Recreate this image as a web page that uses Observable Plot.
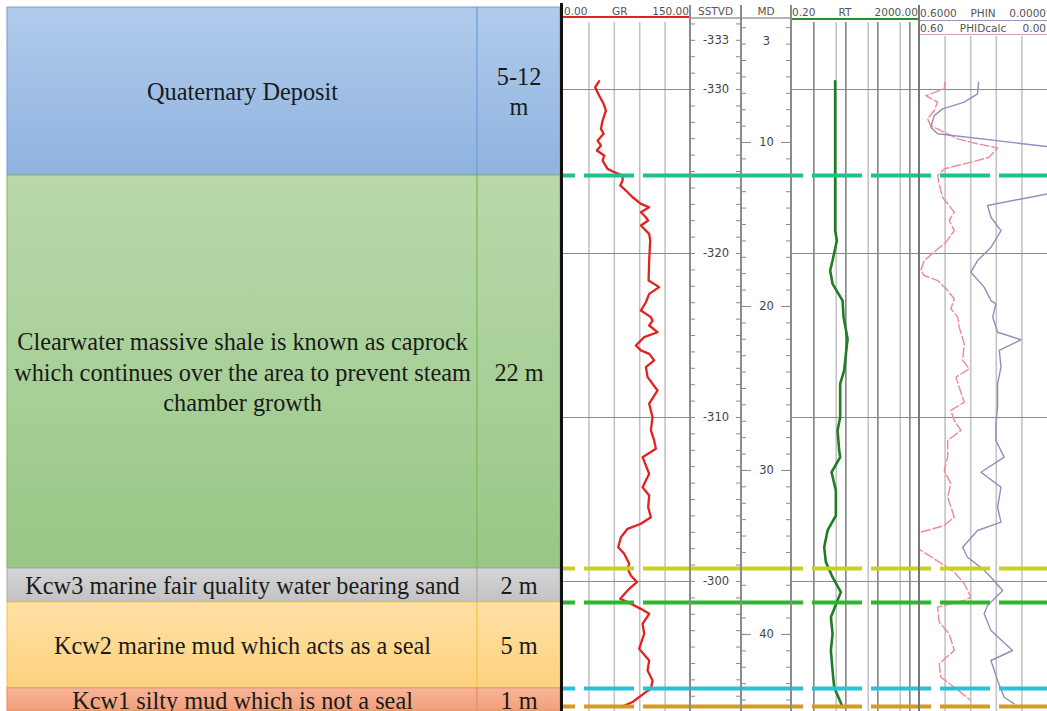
<!DOCTYPE html>
<html>
<head>
<meta charset="utf-8">
<script src="https://cdn.jsdelivr.net/npm/d3@7"></script>
<script src="https://cdn.jsdelivr.net/npm/@observablehq/plot@0.6"></script>
<style>
  html, body { margin: 0; padding: 0; background: #fff; }
  #fig { position: relative; width: 1047px; height: 711px; overflow: hidden; background: #fff; }
  #fig svg.strat text { font-family: "Liberation Serif", "Times New Roman", serif !important; }
</style>
</head>
<body>
<div id="fig"></div>
<script>
// ---------- Stratigraphic column (depths in SSTVD, m) ----------
const units = [
  "Quaternary Deposit",
  "Clearwater massive shale is known as caprock\nwhich continues over the area to prevent steam\nchamber growth",
  "Kcw3 marine fair quality water bearing sand",
  "Kcw2 marine mud which acts as a seal",
  "Kcw1 silty mud which is not a seal"
];
const unitThickness = ["5-12\nm", "22 m", "2 m", "5 m", "1 m"];
const unitTops  = [-335.0, -324.76, -300.79, -298.72, -293.48];
const unitBases = [-324.76, -300.79, -298.72, -293.48, -292.07];
const unitFillTop    = ["#b1cbeb", "#b9d9ab", "#d5d5d5", "#ffe1a6", "#f7b699"];
const unitFillBottom = ["#8fb3e0", "#99c786", "#c2c2c2", "#fdd27d", "#f39e7a"];
const unitBorder     = ["#6f9ed8", "#7db85f", "#a9a9a9", "#f3c246", "#e98a5c"];

// ---------- Formation tops picked on the logs ----------
const topDepths = [-324.76, -300.79, -298.72, -293.48, -292.38];
const topColors = ["#1fc08c", "#c8d11f", "#2db52d", "#25c2d9", "#d49a23"];

// ---------- Log curves: [SSTVD, value] ----------
const grCurve = [
  [-330.51,42.2],[-330.14,37.4],[-329.74,41.0],[-329.13,47.4],[-328.72,50.1],[-328.11,46.2],[-327.60,44.2],
  [-327.30,47.4],[-326.89,40.3],[-326.59,44.2],[-326.28,39.4],[-325.98,48.1],[-325.67,46.2],[-325.16,52.1],
  [-324.96,59.9],[-324.76,69.8],[-324.45,69.8],[-324.15,67.0],[-323.74,75.7],[-323.43,81.6],[-323.03,91.4],
  [-322.82,101.2],[-322.52,91.4],[-322.21,97.3],[-322.01,100.0],[-321.71,91.4],[-321.20,101.2],[-320.79,102.4],
  [-319.57,101.2],[-318.35,100.5],[-317.95,113.0],[-317.54,101.2],[-317.03,97.3],[-316.52,91.4],[-316.12,103.2],
  [-315.91,105.2],[-315.61,101.2],[-315.20,111.1],[-314.90,95.3],[-314.39,85.5],[-314.09,91.4],[-313.88,101.2],
  [-313.48,107.1],[-313.07,97.3],[-312.46,99.3],[-311.65,111.1],[-310.84,101.2],[-310.02,105.2],[-309.21,103.2],
  [-308.60,107.1],[-308.09,109.1],[-307.58,93.4],[-306.57,101.2],[-305.75,93.4],[-305.24,101.2],[-304.53,100.0],
  [-303.92,103.2],[-303.52,91.4],[-303.21,75.7],[-302.70,67.8],[-302.09,64.6],[-301.69,71.7],[-301.08,77.6],
  [-300.77,75.7],[-300.37,79.6],[-299.96,86.7],[-299.55,77.6],[-298.94,67.0],[-298.74,75.7],[-298.33,91.4],
  [-298.03,101.2],[-297.42,93.4],[-296.81,95.3],[-295.90,89.4],[-295.18,101.2],[-294.57,99.3],[-293.96,105.2],
  [-293.46,103.2],[-293.25,97.3],[-292.65,81.6],[-292.34,67.8]
];
const rtCurve = [
  [-330.51,4.63],[-321.40,4.63],[-320.79,5.23],[-319.57,3.84],[-318.96,3.23],[-318.15,3.84],[-317.13,7.88],
  [-316.12,8.47],[-314.80,11.3],[-312.87,8.85],[-312.05,6.64],[-310.02,6.64],[-309.21,5.50],[-307.99,6.18],
  [-307.58,6.64],[-306.66,3.57],[-305.55,4.87],[-304.02,4.87],[-303.11,2.68],[-302.09,2.10],[-301.18,2.37],
  [-300.26,3.84],[-299.35,6.98],[-298.74,5.23],[-297.82,3.40],[-296.81,3.84],[-295.79,3.40],[-294.57,3.84],
  [-293.55,4.31],[-292.34,7.88]
];
const phinCurve = [
  [-330.45,0.323],[-329.74,0.328],[-329.23,0.390],[-328.82,0.492],[-328.41,0.531],[-327.70,0.547],[-327.30,0.515],
  [-326.52,0.0],[-326.20,-0.05],[-323.90,-0.05],[-323.64,0.0],[-322.93,0.281],[-322.21,0.265],[-321.40,0.218],
  [-320.38,0.265],[-319.57,0.328],[-318.86,0.359],[-317.95,0.297],[-317.13,0.265],[-316.93,0.242],[-316.12,0.257],
  [-315.20,0.234],[-314.74,0.125],[-314.09,0.226],[-313.07,0.218],[-312.05,0.234],[-310.63,0.234],[-309.62,0.242],
  [-308.60,0.242],[-307.58,0.203],[-306.66,0.312],[-305.75,0.218],[-304.53,0.234],[-303.62,0.218],[-303.11,0.328],
  [-302.09,0.398],[-301.48,0.375],[-300.77,0.304],[-300.26,0.265],[-299.45,0.210],[-299.04,0.242],[-298.54,0.281],
  [-298.03,0.297],[-297.01,0.265],[-295.79,0.164],[-295.18,0.265],[-293.96,0.234],[-292.94,0.203],[-292.54,0.156]
];
const phidCurve = [
  [-330.45,0.481],[-330.04,0.484],[-329.63,0.570],[-329.23,0.515],[-328.72,0.531],[-328.21,0.562],[-327.80,0.547],
  [-326.99,0.421],[-326.69,0.328],[-326.44,0.234],[-325.87,0.273],[-325.57,0.359],[-325.16,0.484],[-324.76,0.515],
  [-324.25,0.508],[-323.43,0.492],[-322.52,0.437],[-322.01,0.461],[-321.40,0.437],[-320.69,0.476],[-320.18,0.523],
  [-319.57,0.578],[-318.96,0.594],[-318.66,0.578],[-318.35,0.515],[-317.85,0.476],[-317.24,0.437],[-316.63,0.453],
  [-316.12,0.421],[-315.51,0.414],[-314.49,0.390],[-313.48,0.398],[-312.97,0.367],[-312.46,0.429],[-311.85,0.414],
  [-310.93,0.390],[-310.43,0.453],[-309.82,0.437],[-309.21,0.406],[-308.60,0.468],[-307.58,0.468],[-306.77,0.484],
  [-305.96,0.453],[-305.14,0.468],[-303.92,0.437],[-303.41,0.484],[-303.01,0.593],[-302.45,0.660],[-301.89,0.593],
  [-301.38,0.531],[-300.57,0.437],[-299.86,0.390],[-299.04,0.359],[-298.84,0.390],[-298.43,0.515],[-297.52,0.508],
  [-296.81,0.461],[-295.79,0.437],[-294.98,0.508],[-294.16,0.500],[-293.55,0.437],[-292.74,0.359]
];

// ---------- Depth annotation and grid values ----------
const sstvdLabels = [-333, -330, -320, -310, -300];
const depthGrid = [-330, -320, -310, -300];
const mdLabels = [10, 20, 30, 40];
const logTopMD = 3.8;          // MD at the top of the displayed interval
const mdMinusSstvd = 336.77;   // MD = SSTVD + offset for this well
const grGrid = [30, 60, 90, 120];
const rtMajor = [1, 10, 100, 1000];
const rtMinor = [5, 50, 500];
const phiGrid = [0.48, 0.36, 0.24, 0.12];
const curveHeaders = {
  gr: ["0.00", "GR", "150.00"],
  rt: ["0.20", "RT", "2000.00"],
  phin: ["0.6000", "PHIN", "0.0000"],
  phid: ["0.60", "PHIDcalc", "0.00"],
  sstvd: ["SSTVD"],
  md: ["MD"]
};

// ---------- Layout ----------
const FIG_H = 711;
const figTopDepth = -335.43, figBottomDepth = -292.07;
const pxPerM = FIG_H / (figBottomDepth - figTopDepth);
const depthDomain = topPx => [figTopDepth + topPx / pxPerM, figBottomDepth];
const fig = document.getElementById("fig");
const SANS = "'DejaVu Sans', 'Liberation Sans', sans-serif";
const SERIF = "'Liberation Serif', 'Times New Roman', serif";

function box(left, top, w, h, css = {}) {
  const d = document.createElement("div");
  Object.assign(d.style, {position: "absolute", left: left + "px", top: top + "px", width: w + "px", height: h + "px"}, css);
  fig.appendChild(d);
  return d;
}

// ---------- Stratigraphic column ----------
const split = 0.85; // share of the column used for the description
const rows = units.map((unit, i) => ({
  i, unit, thick: unitThickness[i], top: unitTops[i], base: unitBases[i],
  fill: `url(#unit-grad-${i})`, border: unitBorder[i]
}));
const textStyle = {fontFamily: SERIF, fontSize: 24.3, lineHeight: 1.25, fill: "#1a1a1a", dy: -1};
const table = Plot.plot({
  width: 560, height: FIG_H,
  marginLeft: 7, marginRight: 0, marginTop: 0, marginBottom: 0,
  x: {domain: [0, 1], axis: null},
  y: {domain: [figTopDepth, figBottomDepth], reverse: true, axis: null},
  color: {type: "identity"},
  style: {background: "transparent", overflow: "visible"},
  marks: [
    Plot.rect(rows, {x1: 0, x2: split, y1: "top", y2: "base", fill: "fill", stroke: "border", strokeWidth: 1}),
    Plot.rect(rows, {x1: split, x2: 1, y1: "top", y2: "base", fill: "fill", stroke: "border", strokeWidth: 1}),
    Plot.text(rows, {x: split / 2, y: d => (d.top + d.base) / 2, text: "unit", ...textStyle}),
    Plot.text(rows, {x: (1 + split) / 2, y: d => (d.top + d.base) / 2, text: "thick", ...textStyle})
  ]
});
table.classList.add("strat");
const defs = d3.select(table).insert("defs", ":first-child");
rows.forEach((r, i) => {
  const g = defs.append("linearGradient").attr("id", `unit-grad-${i}`)
    .attr("x1", 0).attr("y1", 0).attr("x2", 0).attr("y2", 1);
  g.append("stop").attr("offset", "0%").attr("stop-color", unitFillTop[i]);
  g.append("stop").attr("offset", "100%").attr("stop-color", unitFillBottom[i]);
});
Object.assign(table.style, {position: "absolute", left: "0px", top: "0px"});
fig.appendChild(table);

// ---------- Log tracks ----------
const tracks = {
  gr:    {left: 563, width: 127, top: 22},
  sstvd: {left: 690, width: 51,  top: 22},
  md:    {left: 741, width: 50,  top: 22},
  rt:    {left: 791, width: 128, top: 22},
  phi:   {left: 919, width: 128, top: 36}
};
const topsData = topDepths.map((depth, i) => ({depth, color: topColors[i]}));
const dashedTops = Plot.ruleY(topsData, {y: "depth", stroke: "color", strokeWidth: 4,
  strokeDasharray: "50,9", strokeDashoffset: 38});
const depthLines = Plot.ruleY(depthGrid, {stroke: "#8a8a8a", strokeWidth: 1});

function trackPlot(t, x, marks, shift = 0) {
  const [d0, d1] = depthDomain(t.top);
  const svg = Plot.plot({
    width: t.width, height: FIG_H - t.top, margin: 0,
    x: {...x, axis: null},
    y: {domain: [d0 + shift, d1 + shift], reverse: true, axis: null},
    color: {type: "identity"},
    style: {background: "transparent", overflow: "visible"},
    marks
  });
  Object.assign(svg.style, {position: "absolute", left: t.left + "px", top: t.top + "px"});
  fig.appendChild(svg);
}

// Gamma ray
trackPlot(tracks.gr, {domain: [0, 150]}, [
  Plot.ruleX(grGrid, {stroke: "#c4c4c4", strokeWidth: 1.6}),
  depthLines,
  Plot.line(grCurve, {x: d => d[1], y: d => d[0], stroke: "#e0231f", strokeWidth: 2.3}),
  dashedTops
]);

// SSTVD depth track
const sstvdTicks = d3.range(-334, -292);
trackPlot(tracks.sstvd, {domain: [0, 1]}, [
  Plot.tickY(sstvdTicks, {stroke: "#8a8a8a", insetRight: tracks.sstvd.width - 5}),
  Plot.tickY(sstvdTicks, {stroke: "#8a8a8a", insetLeft: tracks.sstvd.width - 5}),
  Plot.text(sstvdLabels, {y: d => d, text: d => String(d), frameAnchor: "middle",
    fontFamily: SANS, fontSize: 11.5, fill: "#444"}),
  Plot.ruleY(topsData, {y: "depth", stroke: "color", strokeWidth: 4})
]);

// MD depth track (own scale shifted by the MD/SSTVD offset)
const mdTicks = d3.range(3, 45);
trackPlot(tracks.md, {domain: [0, 1]}, [
  Plot.tickY(mdTicks, {stroke: "#8a8a8a", insetRight: tracks.md.width - 5}),
  Plot.tickY(mdTicks, {stroke: "#8a8a8a", insetLeft: tracks.md.width - 5}),
  Plot.tickY(mdLabels, {stroke: "#8a8a8a", insetRight: tracks.md.width - 10}),
  Plot.tickY(mdLabels, {stroke: "#8a8a8a", insetLeft: tracks.md.width - 10}),
  Plot.text(mdLabels, {y: d => d, text: d => String(d), frameAnchor: "middle",
    fontFamily: SANS, fontSize: 11.5, fill: "#444"}),
  Plot.text([logTopMD], {y: d => d, text: d => String(Math.floor(d)), frameAnchor: "middle",
    fontFamily: SANS, fontSize: 11.5, fill: "#444"}),
  Plot.ruleY(topsData, {y: d => d.depth + mdMinusSstvd, stroke: "color", strokeWidth: 4})
], mdMinusSstvd);

// Resistivity (logarithmic)
trackPlot(tracks.rt, {type: "log", domain: [0.2, 2000]}, [
  Plot.ruleX(rtMinor, {stroke: "#c4c4c4", strokeWidth: 1.6}),
  Plot.ruleX(rtMajor, {stroke: "#7c7c7c", strokeWidth: 1.5}),
  depthLines,
  Plot.line(rtCurve, {x: d => d[1], y: d => d[0], stroke: "#1f7d22", strokeWidth: 2.6}),
  dashedTops
]);

// Porosity (reversed scale)
trackPlot(tracks.phi, {domain: [0.6, 0]}, [
  Plot.ruleX(phiGrid, {stroke: "#c4c4c4", strokeWidth: 1.6}),
  depthLines,
  Plot.line(phidCurve, {x: d => d[1], y: d => d[0], stroke: "#ef8a8f", strokeWidth: 1.4,
    strokeDasharray: "9,3", clip: true}),
  Plot.line(phinCurve, {x: d => d[1], y: d => d[0], stroke: "#8f8fc0", strokeWidth: 1.4, clip: true}),
  dashedTops
]);

// ---------- Track headers ----------
function header(t, top, parts, lineColor, lineTop) {
  const h = box(t.left, top, t.width, 12, {
    display: "flex", alignItems: "center",
    justifyContent: parts.length === 1 ? "center" : "space-between",
    fontFamily: SANS, fontSize: "10.5px", lineHeight: "12px", color: "#555",
    whiteSpace: "nowrap", padding: "0 1px", boxSizing: "border-box"
  });
  parts.forEach(p => { const s = document.createElement("span"); s.textContent = p; h.appendChild(s); });
  if (lineColor) box(t.left, lineTop, t.width, 1.5, {background: lineColor});
}
header(tracks.gr, 5, curveHeaders.gr, "#e0231f", 16);
header(tracks.sstvd, 5, curveHeaders.sstvd, "#b5b5b5", 17);
header(tracks.md, 5, curveHeaders.md, "#b5b5b5", 17);
header(tracks.rt, 6, curveHeaders.rt, "#2e8b2e", 18);
header(tracks.phi, 7, curveHeaders.phin, "#9a9ab8", 19.5);
header(tracks.phi, 22, curveHeaders.phid, "#d9a3a6", 33.5);

// ---------- Track borders ----------
box(560, 3, 2.6, FIG_H - 3, {background: "#111"});
[tracks.sstvd, tracks.md, tracks.rt, tracks.phi].forEach(t =>
  box(t.left - 0.75, 5, 1.5, FIG_H - 5, {background: t === tracks.phi ? "#777" : "#8c8c8c"}));
</script>
</body>
